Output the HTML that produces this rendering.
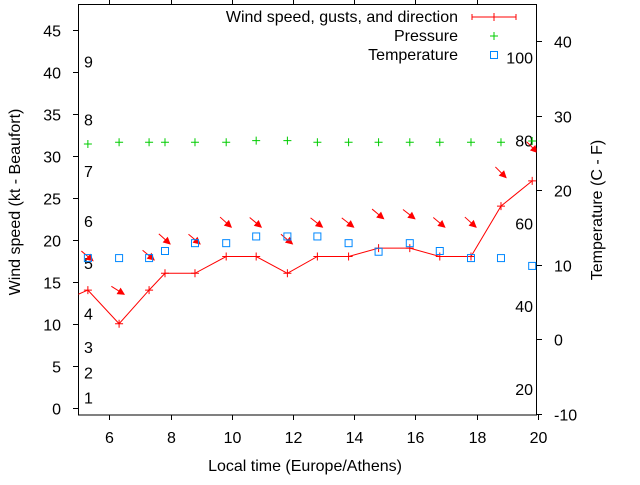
<!DOCTYPE html>
<html><head><meta charset="utf-8"><style>
body{margin:0;background:#fff}
svg text{font-family:"Liberation Sans",sans-serif;font-size:16px;fill:#000}
</style></head><body>
<svg id="chart" width="640" height="480" viewBox="0 0 640 480" xmlns="http://www.w3.org/2000/svg">
<defs><clipPath id="clip"><rect x="78.5" y="4.5" width="458" height="410.5"/></clipPath></defs>
<g id="axes"></g>
<g id="plot" clip-path="url(#clip)"></g>
<g id="legend">
<text x="458" y="22" text-anchor="end">Wind speed, gusts, and direction</text>
<g stroke="#f00" stroke-width="1"><line x1="472" y1="17" x2="516" y2="17"/><line x1="472" y1="14" x2="472" y2="20"/><line x1="516" y1="14" x2="516" y2="20"/><line x1="494" y1="13" x2="494" y2="21"/></g>
<text x="458" y="41" text-anchor="end">Pressure</text>
<g stroke="#0c0" stroke-width="1"><line x1="490" y1="36" x2="498" y2="36"/><line x1="494" y1="32" x2="494" y2="40"/></g>
<text x="458" y="60" text-anchor="end">Temperature</text>
<rect x="490.5" y="51.5" width="7" height="7" fill="none" stroke="#08f"/>
</g>
</svg>
<script>
const hours=[4.8,5.3,6.32,7.3,7.82,8.8,9.82,10.8,11.82,12.8,13.82,14.8,15.82,16.8,17.82,18.8,19.82];
const wind=[13.2,14,10,14,16,16,18,18,16,18,18,19,19,18,18,24,27];
const gusts=[13.5,17.5,13.5,17.6,19.5,19.5,21.5,21.5,19.5,21.5,21.5,22.5,22.5,21.5,21.5,27.4,30.4];
const dirAngle=[40,40,32,40,42,40,42,40,40,38,38,40,38,40,42,45,45];
const pressure=[31.4,31.4,31.6,31.6,31.6,31.6,31.6,31.8,31.8,31.6,31.6,31.6,31.6,31.6,31.6,31.6,31.75];
const temperature=[10.9,10.9,10.9,10.9,11.85,12.9,12.9,13.8,13.8,13.8,12.9,11.75,12.9,11.85,10.9,10.9,9.85];
const xTicks=[6,8,10,12,14,16,18,20];
const yTicks=[0,5,10,15,20,25,30,35,40,45];
const y2Ticks=[-10,0,10,20,30,40];
const beaufort=[[1,1.2],[2,4.2],[3,7.2],[4,11.2],[5,17.2],[6,22.2],[7,28.2],[8,34.3],[9,41.2]];
const fahrenheit=[100,80,60,40,20];

const NS='http://www.w3.org/2000/svg';
const X=h=>78.7+(h-5)*30.6;
const Y=v=>407.7-v*8.4;
const Y2=t=>339.4-t*7.46;
const F2C=f=>(f-32)*5/9;
function mk(tag,attrs,parent){const e=document.createElementNS(NS,tag);for(const k in attrs)e.setAttribute(k,attrs[k]);parent.appendChild(e);return e;}
const axes=document.getElementById('axes'),plot=document.getElementById('plot');

let fr=mk('rect',{x:78.5,y:4.5,width:458,height:410.5,fill:'none',stroke:'#000','stroke-width':1},axes);


xTicks.forEach(t=>{
  const x=Math.round(X(t))+0.5;
  let l=mk('line',{x1:x,y1:415,x2:x,y2:420,stroke:'#000'},axes);
  
  
  if(t<20){let l2=mk('line',{x1:x,y1:0,x2:x,y2:4.5,stroke:'#000'},axes);
  
  }
  let tx=mk('text',{x:x,y:443,'text-anchor':'middle'},axes);tx.textContent=t;
  
  
});
yTicks.forEach(t=>{
  const y=Math.round(Y(t))+0.5;
  let l=mk('line',{x1:73,y1:y,x2:78.5,y2:y,stroke:'#000'},axes);
  
  
  let tx=mk('text',{x:61,y:y+6,'text-anchor':'end'},axes);tx.textContent=t;
  
  
});
y2Ticks.forEach(t=>{
  const y=Math.round(Y2(t))+0.5;
  let l=mk('line',{x1:536.5,y1:y,x2:542,y2:y,stroke:'#000'},axes);
  
  
  let tx=mk('text',{x:554,y:y+6,'text-anchor':'start'},axes);tx.textContent=t;
  
  
});
beaufort.forEach(b=>{
  let tx=mk('text',{x:84,y:Y(b[1])+6},axes);tx.textContent=b[0];
  
  
});
fahrenheit.forEach(f=>{
  let tx=mk('text',{x:533,y:Y2(F2C(f))+6,'text-anchor':'end'},axes);tx.textContent=f;
  
  
});
let t1=mk('text',{x:305,y:471,'text-anchor':'middle'},axes);t1.textContent='Local time (Europe/Athens)';


let t2=mk('text',{x:0,y:0,'text-anchor':'middle',transform:'translate(20,202) rotate(-90)'},axes);t2.textContent='Wind speed (kt - Beaufort)';


let t3=mk('text',{x:0,y:0,'text-anchor':'middle',transform:'translate(602,210) rotate(-90)'},axes);t3.textContent='Temperature (C - F)';



let pl=mk('polyline',{points:hours.map((h,i)=>X(h)+','+Y(wind[i])).join(' '),fill:'none',stroke:'#f00','stroke-width':1},plot);


hours.forEach((h,i)=>{
  const x=X(h),y=Y(wind[i]);
  let p=mk('path',{d:`M${x-4},${y}H${x+4}M${x},${y-4}V${y+4}`,stroke:'#f00'},plot);
  
  
  const tx=x+5,ty=Y(gusts[i]),a=dirAngle[i]*Math.PI/180,L=15,c=Math.cos(a),s=Math.sin(a);
  let ar=mk('line',{x1:tx-L*c,y1:ty-L*s,x2:tx,y2:ty,stroke:'#f00'},plot);
  
  
  const hl=6,hw=3,bx=tx-hl*c,by=ty-hl*s;
  let hd=mk('polygon',{points:`${tx},${ty} ${bx-hw*s},${by+hw*c} ${bx+hw*s},${by-hw*c}`,fill:'#f00',stroke:'#f00'},plot);
  
  
  const py=Y(pressure[i]);
  let pp=mk('path',{d:`M${x-4},${py}H${x+4}M${x},${py-4}V${py+4}`,stroke:'#0c0'},plot);
  
  
  const ty2=Y2(temperature[i]);
  let sq=mk('rect',{x:x-3.5,y:ty2-3.5,width:7,height:7,fill:'none',stroke:'#08f'},plot);
  
  
});
</script>
</body></html>
